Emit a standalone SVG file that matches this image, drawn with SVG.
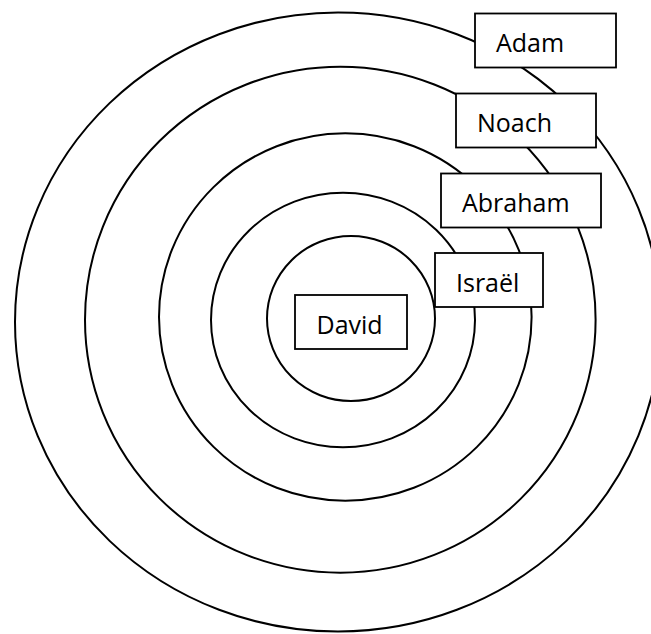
<svg xmlns="http://www.w3.org/2000/svg" width="651" height="634" viewBox="0 0 651 634">
  <style>
    .ring { fill: none; stroke: #000; stroke-width: 2; }
    .box { fill: #fff; stroke: #000; stroke-width: 1.8; }
    .lbl { font-family: "Open Sans", "Noto Sans", "Liberation Sans", sans-serif; font-size: 25px; fill: #000; }
  </style>
  <rect width="651" height="634" fill="#fff"/>
  <g id="rings">
    <ellipse id="ring-adam" class="ring" cx="338" cy="322" rx="323" ry="309.5"/>
    <ellipse id="ring-noach" class="ring" cx="340.3" cy="319.7" rx="255.3" ry="253"/>
    <ellipse id="ring-abraham" class="ring" cx="345.3" cy="317" rx="186.3" ry="183.7"/>
    <ellipse id="ring-israel" class="ring" cx="343" cy="320" rx="132" ry="127.3"/>
    <ellipse id="ring-david" class="ring" cx="351" cy="318.5" rx="84" ry="82.5"/>
  </g>
  <g id="node-adam">
    <rect class="box" x="475" y="13.5" width="141" height="54"/>
    <text class="lbl" x="496" y="52">Adam</text>
  </g>
  <g id="node-noach">
    <rect class="box" x="456" y="93.5" width="140" height="54"/>
    <text class="lbl" x="477" y="132">Noach</text>
  </g>
  <g id="node-abraham">
    <rect class="box" x="441" y="173.5" width="160" height="54"/>
    <text class="lbl" x="462" y="212">Abraham</text>
  </g>
  <g id="node-israel">
    <rect class="box" x="435" y="253" width="108" height="54"/>
    <text class="lbl" x="456" y="291.5">Israël</text>
  </g>
  <g id="node-david">
    <rect class="box" x="295" y="295" width="112" height="54"/>
    <text class="lbl" x="316.5" y="333.5">David</text>
  </g>
</svg>
